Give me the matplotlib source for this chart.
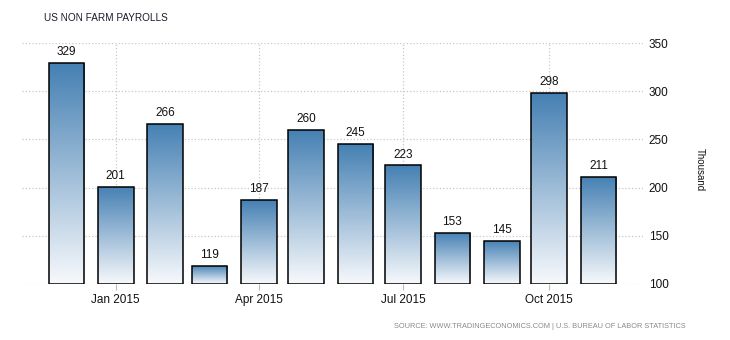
import datetime as dt

import numpy as np
import matplotlib
matplotlib.use('Agg')
import matplotlib.pyplot as plt
import matplotlib.dates as mdates
from matplotlib.colors import LinearSegmentedColormap

plt.rcParams['font.family'] = ['Liberation Sans', 'DejaVu Sans']

# monthly nonfarm payroll changes (thousand)
months = ['2014-12', '2015-01', '2015-02', '2015-03', '2015-04', '2015-05',
          '2015-06', '2015-07', '2015-08', '2015-09', '2015-10', '2015-11']
payrolls = [329, 201, 266, 119, 187, 260, 245, 223, 153, 145, 298, 211]
tick_months = ['2015-01', '2015-04', '2015-07', '2015-10']
tick_labels = ['Jan 2015', 'Apr 2015', 'Jul 2015', 'Oct 2015']

dates = [dt.datetime.strptime(m, '%Y-%m') for m in months]
tick_dates = [dt.datetime.strptime(m, '%Y-%m') for m in tick_months]

fig = plt.figure(figsize=(7.3, 3.4), dpi=100)
ax = fig.add_axes([22 / 730, 1 - 284 / 340, (643 - 22) / 730, (284 - 43) / 340])

base = 100
bar_days = 22.5
grad = LinearSegmentedColormap.from_list('tegrad', ['#f7f9fc', '#4580b3'])
grad_img = np.linspace(0, 1, 256).reshape(-1, 1)

for d, v in zip(dates, payrolls):
    x = mdates.date2num(d)
    bar = ax.bar(d, v - base, bottom=base, width=bar_days, facecolor='none',
                 edgecolor='black', linewidth=1.1, zorder=3)[0]
    im = ax.imshow(grad_img, cmap=grad, origin='lower', aspect='auto',
                   extent=[x - bar_days / 2, x + bar_days / 2, base, v], zorder=2)
    im.set_clip_path(bar)
    ax.text(d, v + 5, str(v), ha='center', va='bottom', fontsize=8.5, color='#111111')

ax.set_xlim(dt.datetime(2014, 11, 3), dt.datetime(2015, 11, 29))
ax.set_ylim(100, 350)
ax.set_xticks(tick_dates)
ax.set_xticklabels(tick_labels)
ax.set_yticks([100, 150, 200, 250, 300, 350])

ax.yaxis.tick_right()
ax.tick_params(axis='y', length=0, labelsize=8.5, pad=4, colors='#111111')
ax.tick_params(axis='x', length=4, color='#bbbbbb', labelsize=8.5, pad=3, labelcolor='#111111')
for s in ax.spines.values():
    s.set_visible(False)
ax.grid(True, linestyle=':', color='#c8c8c8', linewidth=0.9, zorder=0)
ax.set_axisbelow(True)

fig.text(700 / 730, 1 - 170 / 340, 'Thousand', rotation=270, ha='center', va='center',
         fontsize=7, color='#111111')
fig.text(44 / 730, 1 - 18 / 340, 'US NON FARM PAYROLLS', ha='left', va='center',
         fontsize=7.2, color='#1a1a2e')
fig.text(686 / 730, 1 - 326 / 340,
         'SOURCE: WWW.TRADINGECONOMICS.COM | U.S. BUREAU OF LABOR STATISTICS',
         ha='right', va='center', fontsize=5.3, color='#8a8a8a')

fig.savefig('out.png', dpi=100)
